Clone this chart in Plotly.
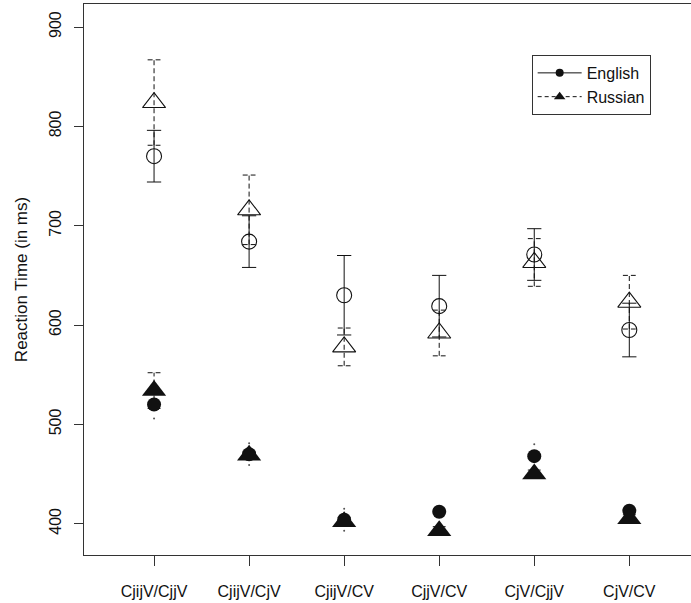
import plotly.graph_objects as go

# ---- data ----
categories = ["CjijV/CjjV", "CjijV/CjV", "CjijV/CV", "CjjV/CV", "CjV/CjjV", "CjV/CV"]
xpos = [1, 2, 3, 4, 5, 6]

# open markers (upper condition)
eng_open = [770, 684, 630, 619, 671, 595]
eng_open_err = [26, 26, 40, 31, 26, 27]
rus_open = [824, 716, 578, 592, 663, 623]
rus_open_err = [43, 35, 19, 23, 24, 27]

# filled markers (lower condition)
eng_fill = [520, 470, 404, 412, 468, 413]
eng_fill_err = [14, 11, 11, 4, 12, 4]
rus_fill = [534, 469, 402, 393, 450, 405]
rus_fill_err = [18, 4, 4, 4, 4, 4]

yticks = [400, 500, 600, 700, 800, 900]

# ---- style ----
FONT = "Liberation Sans, Arial, Helvetica, sans-serif"
CAP = 0.075  # half cap width in x units
INK = "#111111"


def err_path(xs, ys, es, cap):
    px, py = [], []
    for x, y, e in zip(xs, ys, es):
        lo, hi = y - e, y + e
        px += [x, x, None, x - cap, x + cap, None, x - cap, x + cap, None]
        py += [lo, hi, None, hi, hi, None, lo, lo, None]
    return px, py


fig = go.Figure()

# error bars (open markers)
px, py = err_path(xpos, eng_open, eng_open_err, CAP)
fig.add_trace(go.Scatter(x=px, y=py, mode="lines", showlegend=False,
                         line=dict(color=INK, width=1), hoverinfo="skip"))
px, py = err_path(xpos, rus_open, rus_open_err, CAP * 0.9)
fig.add_trace(go.Scatter(x=px, y=py, mode="lines", showlegend=False,
                         line=dict(color=INK, width=1, dash="5px,3px"),
                         hoverinfo="skip"))
# error bars (filled markers)
px, py = err_path(xpos, rus_fill, rus_fill_err, CAP * 0.9)
fig.add_trace(go.Scatter(x=px, y=py, mode="lines", showlegend=False,
                         line=dict(color=INK, width=1, dash="5px,3px"),
                         hoverinfo="skip"))
ends_x = xpos + xpos
ends_y = [y - e for y, e in zip(eng_fill, eng_fill_err)] + \
         [y + e for y, e in zip(eng_fill, eng_fill_err)]
fig.add_trace(go.Scatter(x=ends_x, y=ends_y, mode="markers", showlegend=False,
                         marker=dict(symbol="circle", size=2, color="#555555"),
                         hoverinfo="skip"))

# markers
fig.add_trace(go.Scatter(x=xpos, y=eng_open, mode="markers", showlegend=False,
                         marker=dict(symbol="circle-open", size=15,
                                     color=INK, line=dict(width=1.1, color=INK))))
fig.add_trace(go.Scatter(x=xpos, y=rus_open, mode="markers", showlegend=False,
                         marker=dict(symbol="triangle-up-open", size=20,
                                     color=INK, line=dict(width=1.1, color=INK))))
fig.add_trace(go.Scatter(x=xpos, y=eng_fill, mode="markers", showlegend=False,
                         marker=dict(symbol="circle", size=14, color=INK,
                                     line=dict(width=0))))
fig.add_trace(go.Scatter(x=xpos, y=rus_fill, mode="markers", showlegend=False,
                         marker=dict(symbol="triangle-up", size=21, color=INK,
                                     line=dict(width=0))))

# legend entries
fig.add_trace(go.Scatter(x=[None], y=[None], mode="lines+markers", name="English",
                         line=dict(color=INK, width=1),
                         marker=dict(symbol="circle", size=8, color=INK)))
fig.add_trace(go.Scatter(x=[None], y=[None], mode="lines+markers", name="Russian",
                         line=dict(color=INK, width=1, dash="4px,3px"),
                         marker=dict(symbol="triangle-up", size=10, color=INK)))

fig.update_layout(
    width=691, height=603,
    margin=dict(l=84, r=0, t=4, b=48),
    plot_bgcolor="white", paper_bgcolor="white",
    font=dict(family=FONT, size=14, color=INK),
    showlegend=True,
    legend=dict(x=0.7375, y=0.9075, xanchor="left", yanchor="top",
                bordercolor="#333333", borderwidth=1, bgcolor="white",
                font=dict(size=16, family=FONT, color=INK),
                itemwidth=44, tracegroupgap=0),
    xaxis=dict(range=[0.263, 6.649], tickmode="array", tickvals=xpos,
               ticktext=categories, showgrid=False, zeroline=False,
               showline=True, linecolor="#333333", linewidth=1, mirror=True,
               ticks="outside", ticklen=10, tickcolor="#333333",
               tickfont=dict(size=16, family=FONT, color=INK),
               ticklabelstandoff=12),
    yaxis=dict(range=[368.5, 923.2], tickmode="array", tickvals=yticks,
               ticktext=[str(v) for v in yticks], showgrid=False,
               zeroline=False, showline=True, linecolor="#333333",
               linewidth=1, ticks="outside", ticklen=9, tickcolor="#333333",
               tickangle=-90, tickfont=dict(size=16, family=FONT, color=INK),
               ticklabelstandoff=7,
               title=dict(text="Reaction Time (in ms)",
                          font=dict(size=17, family=FONT, color=INK),
                          standoff=14)),
)

fig.write_html("out.html")
